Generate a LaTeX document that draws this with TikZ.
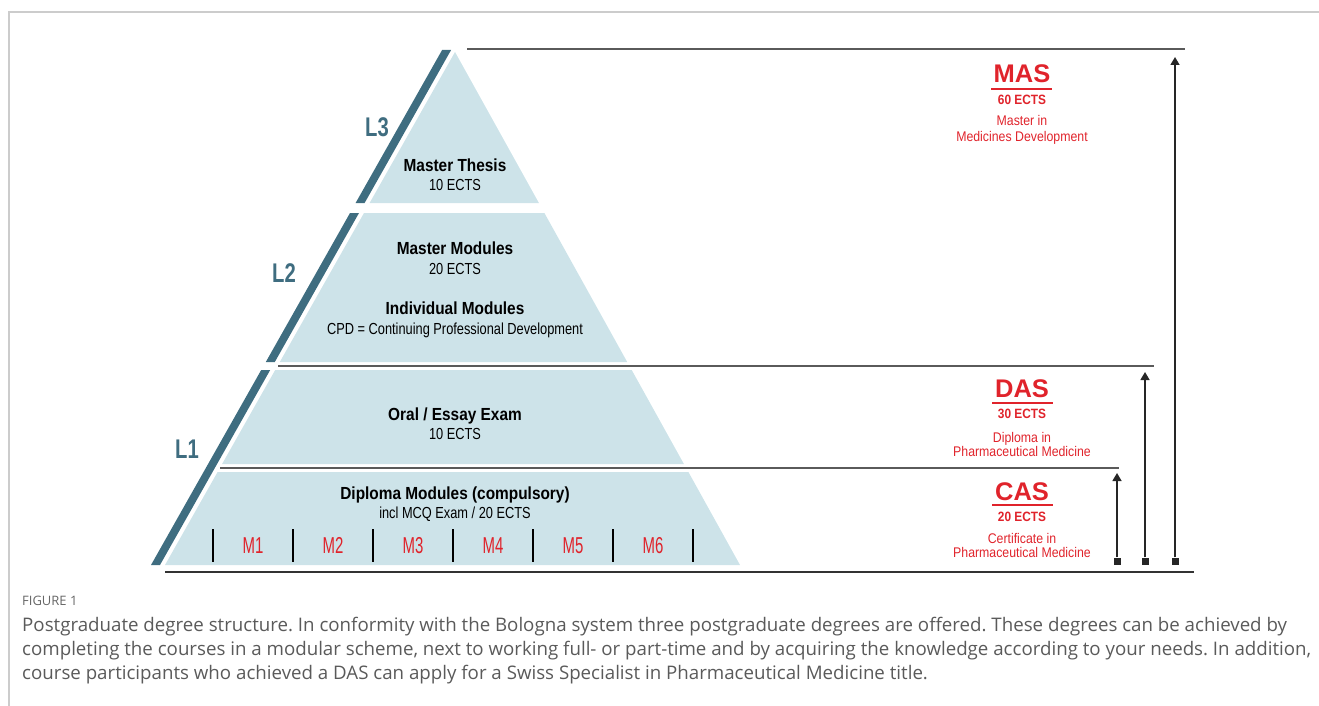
\documentclass[tikz,border=0pt]{standalone}
\usepackage{fontspec}
\setmainfont{Liberation Sans}
\newfontfamily\condfont[FakeStretch=0.88]{Liberation Sans}
\newfontfamily\subfont[FakeStretch=0.8]{Liberation Sans}
\newfontfamily\levelfont[FakeStretch=0.75]{Liberation Sans}
\newfontfamily\modfont[FakeStretch=0.65]{Liberation Sans}
\newfontfamily\redfont[FakeStretch=0.88]{Liberation Sans}
\newfontfamily\captionfont{Open Sans}
\usetikzlibrary{arrows.meta}
\definecolor{pyrfill}{HTML}{CDE3E9}
\definecolor{bandblue}{HTML}{3F6D80}
\definecolor{degred}{HTML}{E0232B}
\definecolor{rulegray}{HTML}{5A5A5A}
\definecolor{framegray}{HTML}{CCCCCC}
\definecolor{capgray}{HTML}{5A5A5A}
\frenchspacing
\tikzset{
  tier/.style={fill=pyrfill},
  band/.style={fill=bandblue},
  level/.style={anchor=base,inner sep=0,text=bandblue,font=\levelfont\bfseries\fontsize{27}{27}\selectfont},
  title/.style={anchor=base,inner sep=0,font=\condfont\bfseries\fontsize{17.5}{17.5}\selectfont},
  sub/.style={anchor=base,inner sep=0,font=\subfont\fontsize{16}{16}\selectfont},
  modlab/.style={anchor=base,inner sep=0,text=degred,font=\modfont\fontsize{23}{23}\selectfont},
  degree/.style={anchor=base,inner sep=0,text=degred,font=\bfseries\fontsize{25.5}{25.5}\selectfont},
  degects/.style={anchor=base,inner sep=0,text=degred,font=\condfont\bfseries\fontsize{13.5}{13.5}\selectfont},
  degname/.style={anchor=base,inner sep=0,text=degred,font=\redfont\fontsize{14}{14}\selectfont},
  caption/.style={anchor=base west,inner sep=0,text=capgray,font=\captionfont\fontsize{18.7}{18.7}\selectfont},
  rule/.style={draw=rulegray,line width=1.5pt},
  arr/.style={draw=black!85,line width=1.5pt,-{Triangle[length=8pt,width=9pt]}},
  sq/.style={fill=black!85,minimum size=7pt,inner sep=0}
}
\begin{document}
\begin{tikzpicture}[x=1pt,y=-1pt]
        \useasboundingbox (0,0) rectangle (1319,706);
        % Cadre
        \draw[framegray,line width=1.5pt] (9,706) -- (9,12) -- (1319,12);
        % Pyramide
        \fill[tier] (455,52) -- (538.9,203) -- (369.6,203) -- cycle;
        \fill[tier] (364,213) -- (544.4,213) -- (627.2,362) -- (279.8,362) -- cycle;
        \fill[tier] (275.2,370) -- (631.7,370) -- (683.9,464) -- (222.1,464) -- cycle;
        \fill[tier] (217.6,472) -- (688.4,472) -- (740,565) -- (165,565) -- cycle;
        % Bandes des niveaux
        \fill[band] (442.1,50) -- (451.1,50) -- (364.6,203) -- (355.6,203) -- cycle;
        \fill[band] (350,213) -- (359,213) -- (274.8,362) -- (265.8,362) -- cycle;
        \fill[band] (261.2,370) -- (270.2,370) -- (160,565) -- (151,565) -- cycle;
        \path(377,136.5) node[level] (lthree) {L3};
        \path(284,282.5) node[level] (ltwo) {L2};
        \path(187,458.5) node[level] (lone) {L1};
        % Textes de la pyramide
        \path(455,171) node[title] (thesis) {Master Thesis};
        \path(455,190) node[sub] (thesisects) {10 ECTS};
        \path(455,254) node[title] (mastermod) {Master Modules};
        \path(455,274) node[sub] (mastermodects) {20 ECTS};
        \path(455,314) node[title] (indiv) {Individual Modules};
        \path(455,334) node[sub] (cpd) {CPD = Continuing Professional Development};
        \path(455,420) node[title] (oral) {Oral / Essay Exam};
        \path(455,439) node[sub] (oralects) {10 ECTS};
        \path(455,499) node[title] (diploma) {Diploma Modules (compulsory)};
        \path(455,518) node[sub] (mcq) {incl MCQ Exam / 20 ECTS};
        % Modules
        \draw[line width=1.5pt] (213,529) -- (213,562);
        \draw[line width=1.5pt] (293,529) -- (293,562);
        \draw[line width=1.5pt] (373,529) -- (373,562);
        \draw[line width=1.5pt] (453,529) -- (453,562);
        \draw[line width=1.5pt] (533,529) -- (533,562);
        \draw[line width=1.5pt] (613,529) -- (613,562);
        \draw[line width=1.5pt] (693,529) -- (693,562);
        \path(253,553) node[modlab] (mone) {M1};
        \path(333,553) node[modlab] (mtwo) {M2};
        \path(413,553) node[modlab] (mthree) {M3};
        \path(493,553) node[modlab] (mfour) {M4};
        \path(573,553) node[modlab] (mfive) {M5};
        \path(653,553) node[modlab] (msix) {M6};
        % Lignes de niveau
        \draw[rule] (467,49) -- (1185,49);
        \draw[rule] (278,366) -- (1154,366);
        \draw[rule] (220,468) -- (1119,468);
        \draw[draw=black!80,line width=2.5pt] (165,572) -- (1194,572);
        % Diplomes
        \path(1022,83) node[degree] (mas) {MAS};
        \draw[degred,line width=2pt] (991,89) -- (1052,89);
        \path(1022,105) node[degects] (masects) {60 ECTS};
        \path(1022,126) node[degname] (masone) {Master in};
        \path(1022,141) node[degname] (mastwo) {Medicines Development};
        \path(1022,397) node[degree] (das) {DAS};
        \draw[degred,line width=2pt] (992,403) -- (1053,403);
        \path(1022,418) node[degects] (dasects) {30 ECTS};
        \path(1022,442) node[degname] (dasone) {Diploma in};
        \path(1022,456) node[degname] (dastwo) {Pharmaceutical Medicine};
        \path(1022,500) node[degree] (cas) {CAS};
        \draw[degred,line width=2pt] (992,505) -- (1053,505);
        \path(1022,521) node[degects] (casects) {20 ECTS};
        \path(1022,543) node[degname] (casone) {Certificate in};
        \path(1022,557) node[degname] (castwo) {Pharmaceutical Medicine};
        % Fleches
        \node[sq] (sqcas) at (1117,561) {};
        \node[sq] (sqdas) at (1145,561) {};
        \node[sq] (sqmas) at (1175,561) {};
        \coordinate (topcas) at (1117,473);
        \coordinate (topdas) at (1145,372);
        \coordinate (topmas) at (1175,57);
        \draw[arr] (sqcas) -- (topcas);
        \draw[arr] (sqdas) -- (topdas);
        \draw[arr] (sqmas) -- (topmas);
        % Legende
        \path(22,605.5) node[caption,font=\captionfont\fontsize{13}{13}\selectfont,text=black!60] (fig) {FIGURE 1};
        \path(22,631) node[caption] (capone) {Postgraduate degree structure. In conformity with the Bologna system three postgraduate degrees are offered. These degrees can be achieved by};
        \path(22,655) node[caption] (captwo) {completing the courses in a modular scheme, next to working full- or part-time and by acquiring the knowledge according to your needs. In addition,};
        \path(22,679) node[caption] (capthree) {course participants who achieved a DAS can apply for a Swiss Specialist in Pharmaceutical Medicine title.};
     \end{tikzpicture}
\end{document}
